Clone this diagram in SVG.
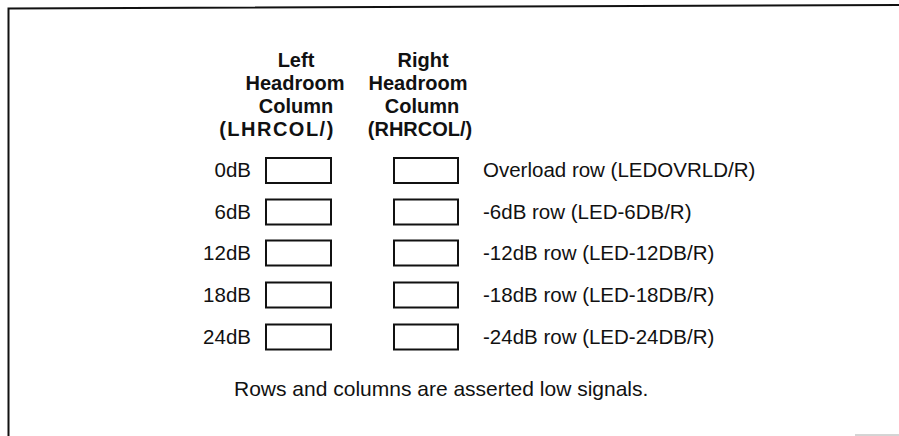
<svg xmlns="http://www.w3.org/2000/svg" width="899" height="436" viewBox="0 0 899 436">
<style>
.frame{stroke:#111;stroke-width:2;fill:none}
.box{fill:#fff;stroke:#111;stroke-width:2}
.hdr{font-family:"Liberation Sans",Arial,sans-serif;font-size:20px;font-weight:bold;fill:#111;text-anchor:middle}
.lbl{font-family:"Liberation Sans",Arial,sans-serif;font-size:20.5px;fill:#111}
.db{text-anchor:end}
</style>
<rect width="899" height="436" fill="#fff"/>
<g id="frame">
<path class="frame" d="M8.5,436 L8.5,8.5 L899,5"/>
<line x1="855" y1="435" x2="899" y2="435" stroke="#aaa" stroke-width="1"/>
</g>
<g id="header-left">
<text class="hdr" x="296" y="67">Left</text>
<text class="hdr" x="295" y="90">Headroom</text>
<text class="hdr" x="296" y="113">Column</text>
<text class="hdr" x="277" y="136" letter-spacing="1.5">(LHRCOL/)</text>
</g>
<g id="header-right">
<text class="hdr" x="423" y="67">Right</text>
<text class="hdr" x="418" y="90">Headroom</text>
<text class="hdr" x="422" y="113">Column</text>
<text class="hdr" x="420" y="136">(RHRCOL/)</text>
</g>
<g id="row-0dB">
<text class="lbl db" x="251" y="177">0dB</text>
<rect class="box" x="266" y="158" width="65" height="25"/>
<rect class="box" x="394" y="158" width="64" height="25"/>
<text class="lbl" x="483" y="177">Overload row (LEDOVRLD/R)</text>
</g>
<g id="row-6dB">
<text class="lbl db" x="251" y="219">6dB</text>
<rect class="box" x="266" y="199.5" width="65" height="25"/>
<rect class="box" x="394" y="199.5" width="64" height="25"/>
<text class="lbl" x="483" y="219">-6dB row (LED-6DB/R)</text>
</g>
<g id="row-12dB">
<text class="lbl db" x="251" y="260">12dB</text>
<rect class="box" x="266" y="240.5" width="65" height="25"/>
<rect class="box" x="394" y="240.5" width="64" height="25"/>
<text class="lbl" x="483" y="260">-12dB row (LED-12DB/R)</text>
</g>
<g id="row-18dB">
<text class="lbl db" x="251" y="302">18dB</text>
<rect class="box" x="266" y="282.5" width="65" height="25"/>
<rect class="box" x="394" y="282.5" width="64" height="25"/>
<text class="lbl" x="483" y="302">-18dB row (LED-18DB/R)</text>
</g>
<g id="row-24dB">
<text class="lbl db" x="251" y="344">24dB</text>
<rect class="box" x="266" y="324.5" width="65" height="25"/>
<rect class="box" x="394" y="324.5" width="64" height="25"/>
<text class="lbl" x="483" y="344">-24dB row (LED-24DB/R)</text>
</g>
<g id="note">
<text class="lbl" x="234" y="396" style="font-size:21px">Rows and columns are asserted low signals.</text>
</g>
</svg>
